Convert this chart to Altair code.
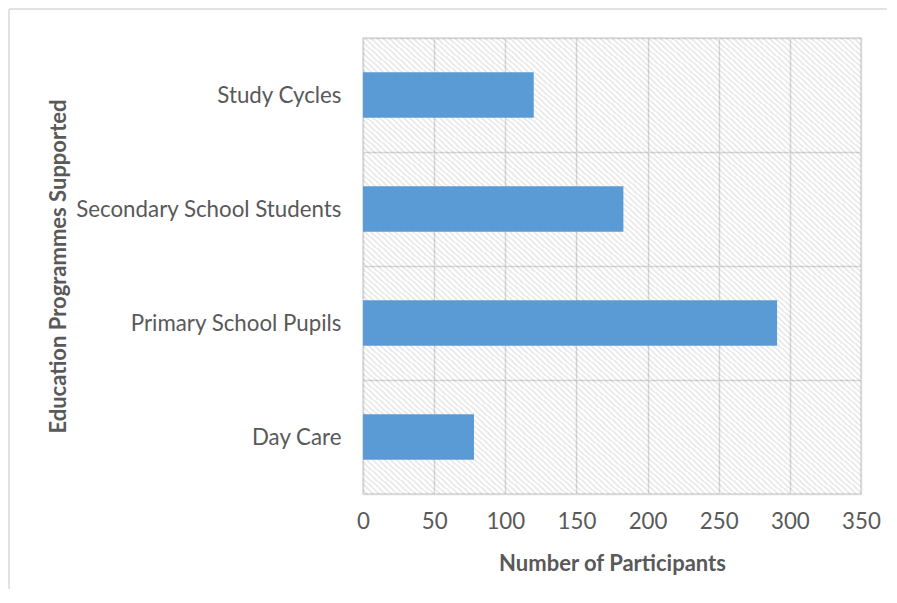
import altair as alt
import pandas as pd

categories = ["Study Cycles", "Secondary School Students", "Primary School Pupils", "Day Care"]
participants = [120, 183, 291, 78]
x_ticks = [0, 50, 100, 150, 200, 250, 300, 350]

df = pd.DataFrame({"programme": categories, "participants": participants})

# diagonal hatch look for the plot background (linear gradient with repeating stops)
n_stripes = 165
stops = []
for i in range(n_stripes):
    a = i / n_stripes
    b = (i + 0.5) / n_stripes
    stops += [
        {"offset": a, "color": "rgba(0,0,0,0)"},
        {"offset": b - 0.0001, "color": "rgba(0,0,0,0)"},
        {"offset": b, "color": "rgba(0,0,0,0.075)"},
        {"offset": (i + 1) / n_stripes - 0.0001, "color": "rgba(0,0,0,0.075)"},
    ]
hatch = alt.LinearGradient(gradient="linear", x1=0, y1=1, x2=1, y2=0, stops=stops)

TEXT = "#595959"
GRID = "#d9d9d9"
FONT = "Lato"

W, H = 498, 456

bg = alt.Chart(pd.DataFrame({"k": [0]})).mark_rect(fill=hatch, strokeWidth=0).encode(
    x=alt.value(0), x2=alt.value(W), y=alt.value(0), y2=alt.value(H)
)

bars = alt.Chart(df).mark_bar(color="#5B9BD5", height={"band": 0.4}).encode(
    x=alt.X(
        "participants:Q",
        scale=alt.Scale(domain=[0, 350], nice=False),
        axis=alt.Axis(
            values=x_ticks,
            title="Number of Participants",
            grid=True,
            gridColor=GRID,
            gridWidth=1.5,
            ticks=False,
            domain=False,
            labelFlush=False,
            labelPadding=16,
            titlePadding=21,
        ),
    ),
    y=alt.Y(
        "programme:N",
        sort=categories,
        scale=alt.Scale(paddingInner=0, paddingOuter=0),
        axis=alt.Axis(
            title="Education Programmes Supported",
            grid=True,
            gridColor=GRID,
            gridWidth=1.5,
            tickBand="extent",
            ticks=False,
            domain=False,
            labelPadding=22,
            labelLimit=400,
            titleAngle=270,
            titleX=-305,
            titleY=228,
            titleAlign="center",
            titleBaseline="middle",
        ),
    ),
)

border_top = alt.Chart(pd.DataFrame({"k": [0]})).mark_rule(color="#d9d9d9", strokeWidth=1.5).encode(
    x=alt.value(-354), x2=alt.value(540), y=alt.value(-29)
)
border_left = alt.Chart(pd.DataFrame({"k": [0]})).mark_rule(color="#d9d9d9", strokeWidth=1.5).encode(
    x=alt.value(-354), y=alt.value(-29), y2=alt.value(570)
)

chart = (
    alt.layer(bg, bars, border_top, border_left)
    .properties(
        width=W,
        height=H,
        autosize=alt.AutoSizeParams(type="none"),
        padding={"left": 355, "top": 30, "right": 26, "bottom": 95},
        background="white",
    )
    .configure_view(stroke=GRID, strokeWidth=1.5)
    .configure_axis(
        labelFont=FONT,
        titleFont=FONT,
        labelFontSize=22.3,
        titleFontSize=22,
        labelColor=TEXT,
        titleColor=TEXT,
        titleFontWeight="bold",
    )
)

chart.save("out.html", embed_options={"renderer": "svg", "actions": False})
